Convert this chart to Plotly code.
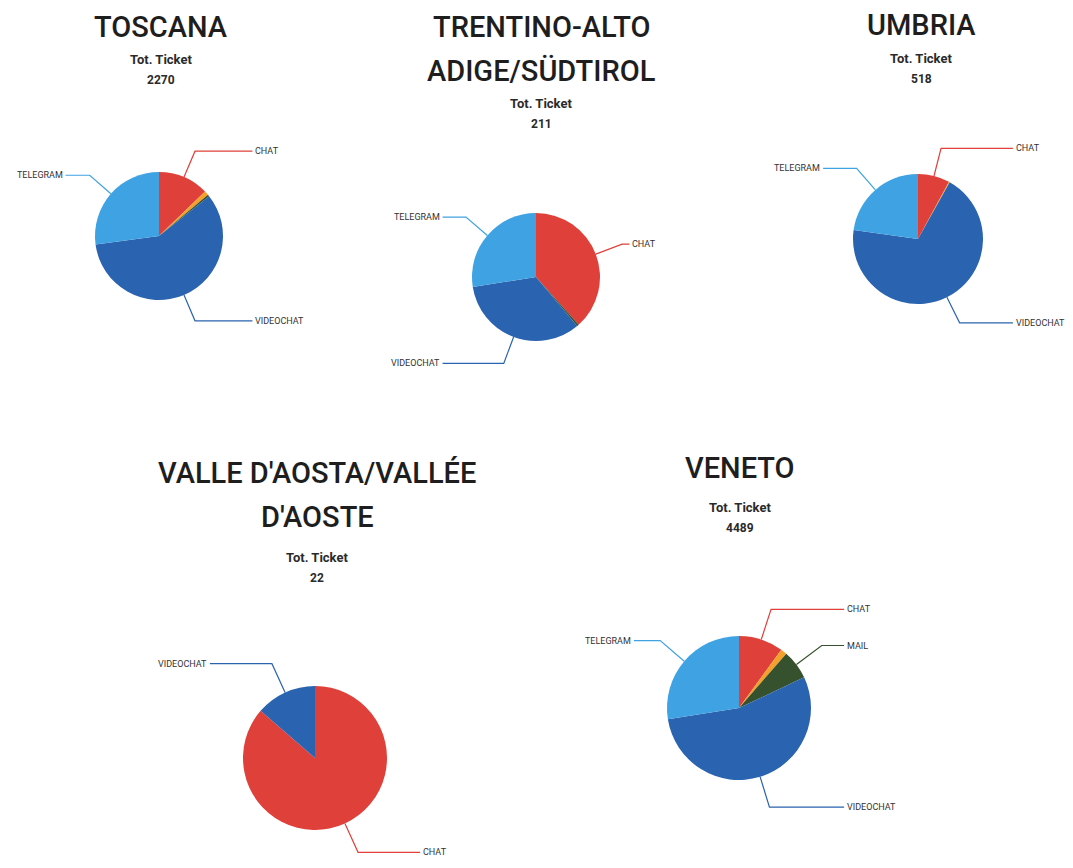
import math
import plotly.graph_objects as go

W, H = 1073, 868
OFF = 8  # default page body margin of the browser
FW, FH = W - 2 * OFF, H - 2 * OFF  # figure size that fits the window

# ---------------- data ----------------
categories = ["CHAT", "ALTRO", "MAIL", "VIDEOCHAT", "TELEGRAM"]
title_lines = [
    ["TOSCANA"],
    ["TRENTINO-ALTO", "ADIGE/SÜDTIROL"],
    ["UMBRIA"],
    ["VALLE D'AOSTA/VALLÉE", "D'AOSTE"],
    ["VENETO"],
]
tot_tickets = [2270, 211, 518, 22, 4489]

toscana = [290, 25, 10, 1330, 615]
trentino = [81, 0, 1, 71, 58]
umbria = [41, 1, 0, 358, 118]
valle_aosta = [19, 0, 0, 3, 0]
veneto = [449, 63, 296, 2447, 1234]
region_values = [toscana, trentino, umbria, valle_aosta, veneto]

# ---------------- styles / layout ----------------
colors = ["#E0403A", "#F4A12C", "#36512E", "#2A63AF", "#3FA2E2"]
title_x = [161, 541, 921, 317, 740]
title_y = [27, 27, 25, 473, 468]
title_gap = 44
sub_y = [59, 103, 58, 557, 507]
centers = [(159, 236), (536, 277), (918, 239), (315, 758), (739, 708)]
radii = [64, 64, 65, 72, 72]
LABEL_MIN_SHARE = 0.03

FONT = "Roboto, 'Noto Sans', sans-serif"


def px(x):
    return (x - OFF) / FW


def py(y):
    return 1 - (y - OFF) / FH


fig = go.Figure()
annotations = []

for i, vals in enumerate(region_values):
    cx, cy = centers[i]
    r = radii[i]
    fig.add_trace(go.Pie(
        labels=categories,
        values=vals,
        sort=False,
        direction="clockwise",
        rotation=0,
        textinfo="none",
        hoverinfo="label+value+percent",
        marker=dict(colors=colors, line=dict(width=0)),
        domain=dict(x=[px(cx - r), px(cx + r)], y=[py(cy + r), py(cy - r)]),
        showlegend=False,
    ))

    # titles
    for k, line in enumerate(title_lines[i]):
        annotations.append(dict(
            x=title_x[i], y=title_y[i] + k * title_gap, xref="x", yref="y",
            text=line, showarrow=False, xanchor="center", yanchor="middle",
            font=dict(family=FONT, size=29, color="#1e1e1e", weight=500),
        ))
    annotations.append(dict(
        x=title_x[i], y=sub_y[i], xref="x", yref="y", text="Tot. Ticket",
        showarrow=False, xanchor="center", yanchor="middle",
        font=dict(family=FONT, size=13, color="#2a2a2a", weight="bold"),
    ))
    annotations.append(dict(
        x=title_x[i], y=sub_y[i] + 21, xref="x", yref="y", text=str(tot_tickets[i]),
        showarrow=False, xanchor="center", yanchor="middle",
        font=dict(family=FONT, size=12, color="#2a2a2a", weight="bold"),
    ))

    # leader lines and labels
    total = sum(vals)
    cum = 0.0
    for j, v in enumerate(vals):
        start = cum
        cum += v
        if total == 0 or v / total < LABEL_MIN_SHARE:
            continue
        mid = (start + v / 2) / total * 2 * math.pi
        s, c = math.sin(mid), -math.cos(mid)
        x0, y0 = cx + r * s, cy + r * c
        x1, y1 = cx + 1.44 * r * s, cy + 1.44 * r * c
        side = 1 if s >= 0 else -1
        x2 = cx + side * 1.46 * r
        fig.add_trace(go.Scatter(
            x=[x0, x1, x2], y=[y0, y1, y1], mode="lines",
            line=dict(color=colors[j], width=1.2),
            hoverinfo="skip", showlegend=False,
        ))
        annotations.append(dict(
            x=x2 + side * 1, y=y1, xref="x", yref="y", text=categories[j],
            showarrow=False, xanchor="left" if side > 0 else "right",
            yanchor="middle",
            font=dict(family=FONT, size=9, color="#333333"),
        ))

fig.update_layout(
    width=FW, height=FH,
    margin=dict(l=0, r=0, t=0, b=0),
    paper_bgcolor="white", plot_bgcolor="rgba(0,0,0,0)",
    xaxis=dict(range=[OFF, OFF + FW], visible=False, domain=[0, 1], fixedrange=True),
    yaxis=dict(range=[OFF + FH, OFF], visible=False, domain=[0, 1], fixedrange=True),
    annotations=annotations,
    showlegend=False,
)

fig.write_html("out.html")
